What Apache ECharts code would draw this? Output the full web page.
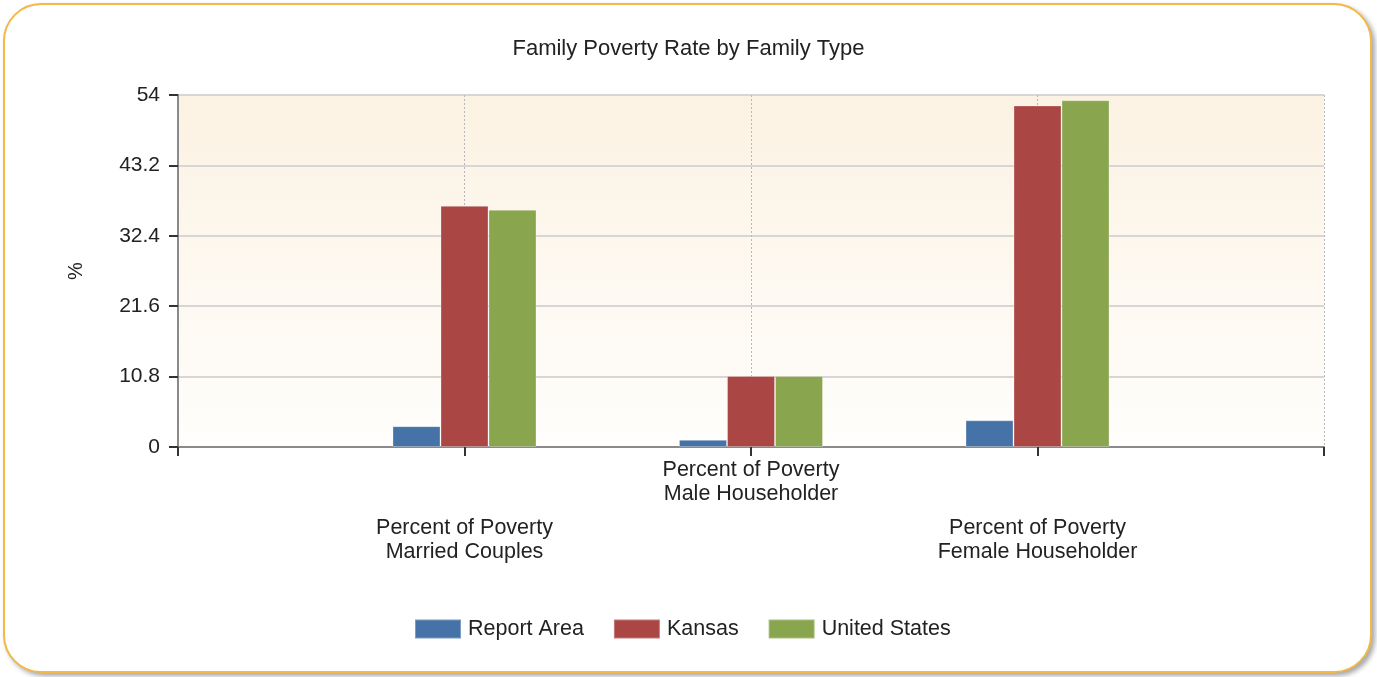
<!DOCTYPE html>
<html>
<head>
<meta charset="utf-8">
<title>Family Poverty Rate by Family Type</title>
<script src="https://cdn.jsdelivr.net/npm/echarts@6/dist/echarts.min.js"></script>
<style>
  html, body { margin: 0; padding: 0; background: #ffffff; }
  #frame {
    position: absolute; left: 3px; top: 3px; width: 1369px; height: 670px;
    box-sizing: border-box; border: 2px solid #f2b84a; border-radius: 38px;
    background: #ffffff; box-shadow: 3px 3px 5px rgba(0,0,0,0.35);
  }
  #chart { position: absolute; left: 0; top: 0; width: 1377px; height: 677px; }
</style>
</head>
<body>
<div id="frame"></div>
<div id="chart"></div>
<script>
// Family types (one blank slot on either side keeps the groups off the plot edges)
const categories = [
  'Percent of Poverty\nMarried Couples',
  'Percent of Poverty\nMale Householder',
  'Percent of Poverty\nFemale Householder'
];
const seriesNames = ['Report Area', 'Kansas', 'United States'];
const reportArea = [3.2, 1.1, 4.1];
const kansas = [37.0, 10.9, 52.4];
const unitedStates = [36.4, 10.9, 53.2];
const yTicks = [0, 10.8, 21.6, 32.4, 43.2, 54];
const colors = ['#4572a7', '#aa4643', '#89a54e'];

const axisCats = [''].concat(categories, ['']);
const pad = arr => [null].concat(arr, [null]);
const seriesValues = [reportArea, kansas, unitedStates];

const FONT = '"Liberation Sans", Arial, sans-serif';

const chart = echarts.init(document.getElementById('chart'), null, { renderer: 'canvas' });

chart.setOption({
  backgroundColor: 'transparent',
  animation: false,
  color: colors,
  title: {
    text: 'Family Poverty Rate by Family Type',
    left: 'center',
    top: 33,
    textStyle: { fontFamily: FONT, fontSize: 22, fontWeight: 'normal', color: '#222' }
  },
  legend: {
    data: seriesNames,
    left: 409,
    top: 613,
    icon: 'rect',
    itemWidth: 46,
    itemHeight: 19,
    itemGap: 29,
    textStyle: { fontFamily: FONT, fontSize: 21.5, color: '#222', padding: [0, 0, 0, 2] }
  },
  grid: {
    left: 178, right: 53, top: 95, bottom: 230,
    show: true,
    borderWidth: 0,
    backgroundColor: new echarts.graphic.LinearGradient(0, 0, 0, 1, [
      { offset: 0, color: '#fcf2e3' },
      { offset: 1, color: '#fffefc' }
    ])
  },
  xAxis: {
    type: 'category',
    data: axisCats,
    boundaryGap: false,
    axisLine: { show: true, lineStyle: { color: '#8a8a8a', width: 2 } },
    axisTick: { show: true, length: 9, lineStyle: { color: '#333', width: 2 } },
    splitLine: { show: true, lineStyle: { color: '#b8b8b8', type: [2, 2], width: 1 } },
    axisLabel: {
      interval: 0,
      margin: 11,
      fontFamily: FONT,
      fontSize: 21.5,
      lineHeight: 24,
      color: '#222',
      formatter: function (value, index) {
        if (!value) return '';
        const lines = value.split('\n').map(s => '{t|' + s + '}').join('\n');
        return index % 2 === 1 ? '{sp| }\n' + lines : lines;
      },
      rich: {
        t: { fontFamily: FONT, fontSize: 21.5, lineHeight: 24, color: '#222' },
        sp: { fontSize: 10, lineHeight: 58 }
      }
    }
  },
  yAxis: {
    type: 'value',
    min: 0,
    max: 54,
    interval: 10.8,
    name: '%',
    nameLocation: 'middle',
    nameGap: 92,
    nameTextStyle: { fontFamily: FONT, fontSize: 20, color: '#222' },
    axisLine: { show: true, lineStyle: { color: '#8a8a8a', width: 2 } },
    axisTick: { show: true, length: 9, lineStyle: { color: '#333', width: 2 } },
    splitLine: { show: true, lineStyle: { color: '#d6d6d6', width: 2 } },
    axisLabel: {
      margin: 18,
      fontFamily: FONT,
      fontSize: 21,
      color: '#222',
      formatter: function (v) {
        const t = yTicks.find(x => Math.abs(x - v) < 1e-6);
        return t === undefined ? '' : String(t);
      }
    }
  },
  series: seriesNames.map((name, i) => ({
    name: name,
    type: 'bar',
    data: pad(seriesValues[i]),
    barWidth: 48,
    barGap: '0%',
    itemStyle: { color: colors[i], borderColor: 'rgba(255,255,255,0.3)', borderWidth: 1 }
  }))
});
</script>
</body>
</html>
